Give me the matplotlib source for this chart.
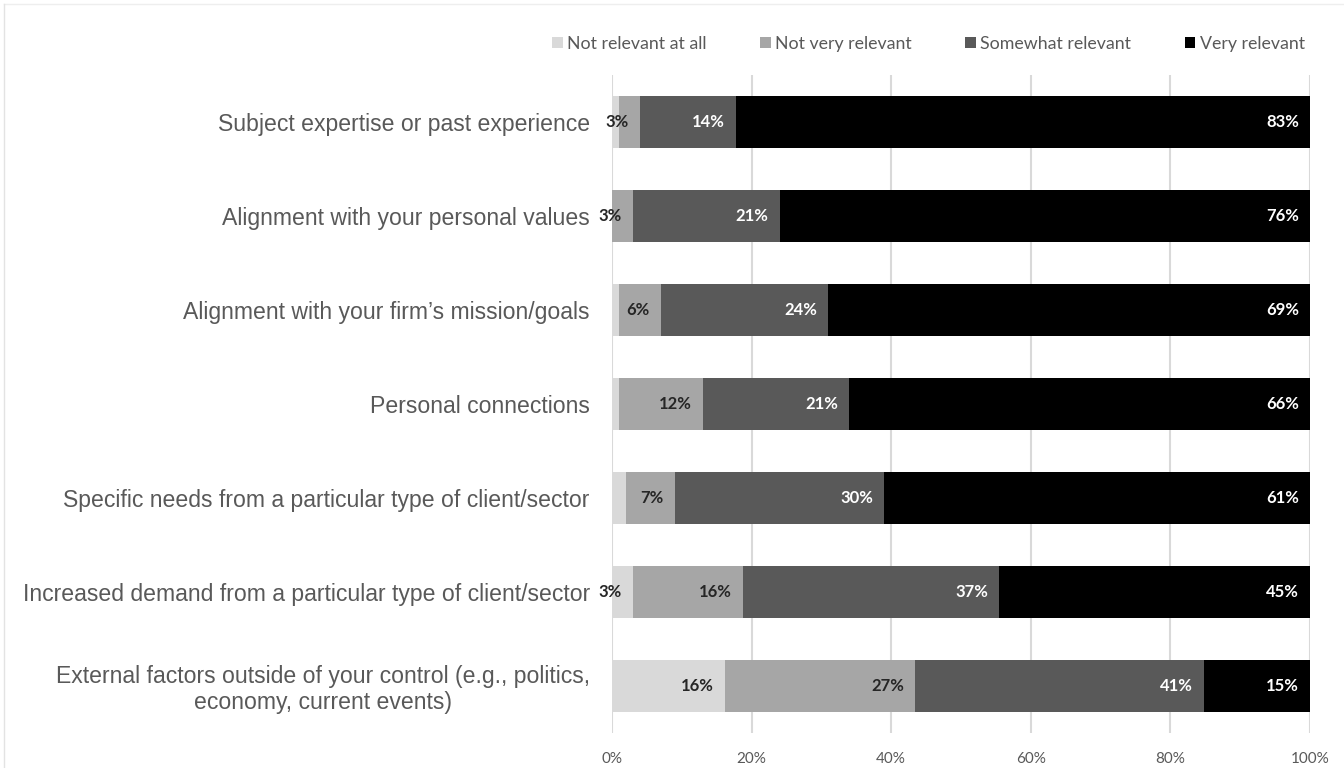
import matplotlib.pyplot as plt
from matplotlib.patches import Patch
from matplotlib.lines import Line2D
import numpy as np

# data
categories = [
    "Subject expertise or past experience",
    "Alignment with your personal values",
    "Alignment with your firm\u2019s mission/goals",
    "Personal connections",
    "Specific needs from a particular type of client/sector",
    "Increased demand from a particular type of client/sector",
    "External factors outside of your control (e.g., politics,\neconomy, current events)",
]
series = ["Not relevant at all", "Not very relevant", "Somewhat relevant", "Very relevant"]
not_at_all = [1, 0, 1, 1, 2, 3, 16]
not_very = [3, 3, 6, 12, 7, 16, 27]
somewhat = [14, 21, 24, 21, 30, 37, 41]
very = [83, 76, 69, 66, 61, 45, 15]

colors = ["#d9d9d9", "#a6a6a6", "#595959", "#000000"]
label_colors = ["#262626", "#262626", "white", "white"]

label_font = ["Lato", "DejaVu Sans"]
cat_font = ["Liberation Sans", "DejaVu Sans"]

vals = np.array([not_at_all, not_very, somewhat, very], dtype=float)
shares = vals / vals.sum(axis=0) * 100  # bars fill 100%

fig = plt.figure(figsize=(13.44, 7.68), dpi=100)
ax = fig.add_axes([612 / 1344, 1 - 733 / 768, (1310 - 612) / 1344, (733 - 75) / 768])

y = np.arange(len(categories))
left = np.zeros(len(categories))
for i in range(4):
    ax.barh(y, shares[i], left=left, height=0.55, color=colors[i], zorder=3)
    for j in range(len(categories)):
        if vals[i, j] >= 3:
            ax.text(left[j] + shares[i, j] - 1.6, y[j], "%d%%" % vals[i, j],
                    ha="right", va="center", fontsize=12, fontweight="bold",
                    color=label_colors[i], family=label_font, zorder=4)
    left += shares[i]

ax.set_xlim(0, 100)
ax.set_ylim(len(categories) - 0.5, -0.5)
ax.set_xticks(np.arange(0, 101, 20))
ax.set_xticklabels(["%d%%" % v for v in range(0, 101, 20)], family=label_font,
                   fontsize=11, color="#595959")
ax.set_yticks(y)
ax.set_yticklabels(categories, family=cat_font, fontsize=16.6, color="#595959")
last = ax.get_yticklabels()[-1]
last.set_multialignment("center")
last.set_linespacing(1.15)
ax.tick_params(axis="both", length=0)
ax.tick_params(axis="y", pad=16)
ax.tick_params(axis="x", pad=14)
ax.grid(axis="x", color="#d9d9d9", linewidth=1.5, zorder=0)
for s in ax.spines.values():
    s.set_visible(False)

handles = [Patch(facecolor=c, edgecolor="none") for c in colors]
fig.legend(handles, series, loc="center right", bbox_to_anchor=(1321 / 1344, 1 - 44 / 768),
           ncol=4, frameon=False, handlelength=0.6, handleheight=0.6, handletextpad=0.25,
           columnspacing=3.0, prop={"family": label_font, "size": 12.8}, labelcolor="#595959")

# faint chart frame
fig.add_artist(Line2D([4 / 1344, 1], [1 - 4 / 768, 1 - 4 / 768], color="#eeeeee", linewidth=1))
fig.add_artist(Line2D([4 / 1344, 4 / 1344], [0, 1 - 4 / 768], color="#e3e3e3", linewidth=1))

fig.savefig("out.png", dpi=100)
